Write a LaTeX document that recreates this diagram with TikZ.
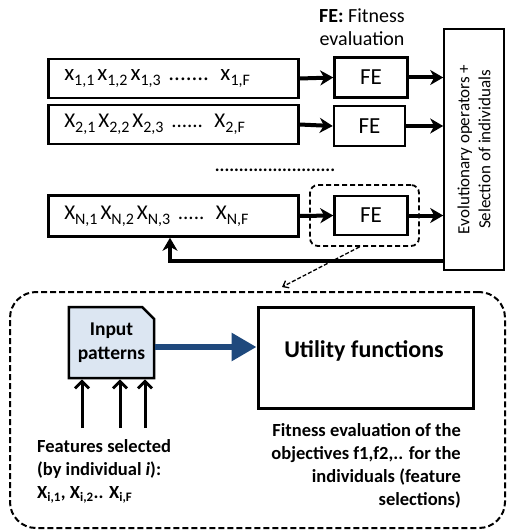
\documentclass[tikz,border=0pt]{standalone}
\usepackage{fontspec}
\setmainfont{Carlito}
\usetikzlibrary{arrows.meta,shapes.misc}
\definecolor{ipfill}{HTML}{DCE6F2}
\definecolor{darkblue}{HTML}{1F497D}
\newcommand\xsub[2]{#1\raisebox{-5pt}{\fontsize{16}{16}\selectfont #2}}
\newcommand\gapx{\hspace{3pt}}
\tikzset{
  rowbox/.style={draw, line width=2.5pt, minimum height=39pt, text width=218pt, inner xsep=16pt, align=left, anchor=west, font=\fontsize{23}{24}\selectfont},
  febox/.style={draw, line width=2.5pt, minimum width=73pt, minimum height=40pt, font=\fontsize{23}{24}\selectfont},
  thick arrow/.style={line width=4pt, -{Stealth[length=13pt,width=15pt,inset=4pt]}},
  up arrow/.style={line width=3pt, -{Straight Barb[length=7pt,width=14pt]}},
  lbl/.style={font=\fontsize{18.5}{23}\selectfont\bfseries, inner sep=0pt}
}
\begin{document}
\begin{tikzpicture}[x=1pt,y=-1pt]
\useasboundingbox (0,0) rectangle (507,532);
% header
\node[font=\fontsize{20}{23}\selectfont, align=center, inner sep=0pt] (hdr) at (362,27) {\textbf{FE:} Fitness\\evaluation};
% rows
\node[rowbox] (r1) at (47,78.5) {\xsub{x}{1,1}\gapx\xsub{x}{1,2}\gapx\xsub{x}{1,3} ....... \xsub{x}{1,F}};
\node[rowbox] (r2) at (47,124.5) {\fontsize{21}{24}\selectfont\xsub{X}{2,1}\gapx\xsub{X}{2,2}\gapx\xsub{X}{2,3} ...... \xsub{X}{2,F}};
\node[rowbox, minimum height=41pt] (rN) at (47,216) {\fontsize{21}{24}\selectfont\xsub{X}{N,1}\gapx\xsub{X}{N,2}\gapx\xsub{X}{N,3} ..... \xsub{X}{N,F}};
\node[font=\fontsize{18}{20}\selectfont\bfseries, inner sep=0pt] (dots) at (275,170) {.........................};
% FE boxes
\node[febox] (fe1) at (371,77.5) {FE};
\node[febox, minimum width=71pt] (fe2) at (369.5,126) {FE};
\node[febox, minimum height=39pt] (feN) at (371,215.5) {FE};
\node[draw, dash pattern=on 5pt off 3pt, line width=1.8pt, rounded corners=8pt, minimum width=109pt, minimum height=61pt] (feNbox) at (364.5,215.5) {};
% right box
\node[draw, line width=1.6pt, rotate=90, minimum width=241pt, minimum height=60pt, align=center, font=\fontsize{17}{21}\selectfont] (evo) at (474,149.5) {Evolutionary operators +\\Selection of individuals};
% arrows
\draw[thick arrow] (r1.east) -- (fe1.west);
\draw[thick arrow] (r2.east) -- (fe2.west);
\draw[thick arrow] (rN.east) -- (feN.west);
\draw[thick arrow] (fe1.east) -- (fe1.east -| evo.north);
\draw[thick arrow] (fe2.east) -- (fe2.east -| evo.north);
\draw[thick arrow] (feN.east) -- (feN.east -| evo.north);
\coordinate (fbR) at (444,261);
\coordinate (fbL) at (170,261);
\draw[thick arrow] (fbR) -- (fbL) -- (fbL |- rN.south);
% bottom dashed box
\node[draw, dash pattern=on 6pt off 3pt, line width=2pt, rounded corners=26pt, minimum width=495pt, minimum height=236pt] (detail) at (257.5,410) {};
\draw[dash pattern=on 4pt off 2pt, line width=1.3pt, -{Straight Barb[length=5pt,width=8pt]}] (feNbox.south) ++(-5,0) coordinate (dstart) -- (282,287);
% input patterns
\node[chamfered rectangle, chamfered rectangle corners=north east, chamfered rectangle xsep=9pt, draw, line width=2.5pt, fill=ipfill, minimum width=77pt, minimum height=71pt, inner sep=0pt, align=center, font=\fontsize{19.5}{24}\selectfont\bfseries] (ip) at (111.5,342.5) {Input\\patterns};
% utility
\node[draw, line width=3pt, minimum width=215pt, minimum height=101pt] (uf) at (365.5,357.5) {};
\node[font=\fontsize{24}{26}\selectfont\bfseries, inner sep=0pt] (uft) at (364,351) {Utility functions};
\coordinate (ay) at (0,347);
\draw[darkblue, line width=6pt, -{Triangle[length=25pt,width=27pt]}] (ip.east |- ay) -- (uf.west |- ay);
% up arrows
\coordinate (a1) at (82,428);
\coordinate (a2) at (120,428);
\coordinate (a3) at (145,428);
\draw[up arrow] (a1) -- (a1 |- ip.south);
\draw[up arrow] (a2) -- (a2 |- ip.south);
\draw[up arrow] (a3) -- (a3 |- ip.south);
% texts
\node[lbl, anchor=north west, align=left] (feat) at (37,439) {Features selected\\(by individual \textit{i}):\\X\textsubscript{i,1}, X\textsubscript{i,2}.. X\textsubscript{i,F}};
\node[lbl, anchor=north east, align=right] (fit) at (461,423) {Fitness evaluation of the\\objectives f1,f2,.. for the\\individuals (feature\\selections)};
\end{tikzpicture}
\end{document}
